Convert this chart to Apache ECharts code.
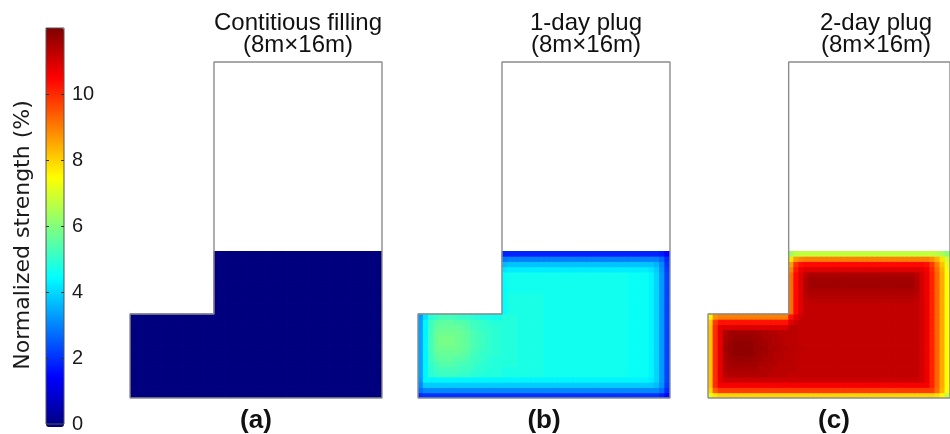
<!DOCTYPE html>
<html>
<head>
<meta charset="utf-8">
<script src="https://cdn.jsdelivr.net/npm/echarts@6/dist/echarts.min.js"></script>
<style>
  html, body { margin: 0; padding: 0; background: #fff; }
  #chart { width: 950px; height: 434px; }
</style>
</head>
<body>
<div id="chart"></div>
<script>
// Normalized backfill strength (%) in an L-shaped stope.
// Each field is a list of rows from the floor up to the fill surface (7 m);
// columns run across the stope from x = 0 to x = 12 m. null = outside the stope.

// cell centres (m): 0.5 m sampling for the uniform case, 0.25 m for the plug cases
const coarseX = [0.25, 0.75, 1.25, 1.75, 2.25, 2.75, 3.25, 3.75, 4.25, 4.75, 5.25, 5.75,
                 6.25, 6.75, 7.25, 7.75, 8.25, 8.75, 9.25, 9.75, 10.25, 10.75, 11.25, 11.75];
const coarseY = [0.25, 0.75, 1.25, 1.75, 2.25, 2.75, 3.25, 3.75, 4.25, 4.75, 5.25, 5.75, 6.25, 6.75];
const fineX = [0.125, 0.375, 0.625, 0.875, 1.125, 1.375, 1.625, 1.875, 2.125, 2.375, 2.625, 2.875,
               3.125, 3.375, 3.625, 3.875, 4.125, 4.375, 4.625, 4.875, 5.125, 5.375, 5.625, 5.875,
               6.125, 6.375, 6.625, 6.875, 7.125, 7.375, 7.625, 7.875, 8.125, 8.375, 8.625, 8.875,
               9.125, 9.375, 9.625, 9.875, 10.125, 10.375, 10.625, 10.875, 11.125, 11.375, 11.625, 11.875];
const fineY = [0.125, 0.375, 0.625, 0.875, 1.125, 1.375, 1.625, 1.875, 2.125, 2.375, 2.625, 2.875,
               3.125, 3.375, 3.625, 3.875, 4.125, 4.375, 4.625, 4.875, 5.125, 5.375, 5.625, 5.875,
               6.125, 6.375, 6.625, 6.875];

const panelTitles = ['Contitious filling', '1-day plug', '2-day plug'];
const panelSizes = ['(8m\u00d716m)', '(8m\u00d716m)', '(8m\u00d716m)'];
const panelLabels = ['(a)', '(b)', '(c)'];
const strengthName = 'Normalized strength (%)';
const strengthRange = [0, 12];
const strengthStep = 2;

// Stope walls in metres: 12 m wide floor, 4 m high side drift, 8 m x 16 m main opening
const stopeOutline = [[0, 0], [12, 0], [12, 16], [4, 16], [4, 4], [0, 4], [0, 0]];
const stopeWidth = 12, stopeHeight = 16, fillHeight = 7;

// (a) continuous filling
const fieldA = [
  [0, 0, 0, 0, 0, 0, 0, 0, 0, 0, 0, 0, 0, 0, 0, 0, 0, 0, 0, 0, 0, 0, 0, 0],
  [0, 0, 0, 0, 0, 0, 0, 0, 0, 0, 0, 0, 0, 0, 0, 0, 0, 0, 0, 0, 0, 0, 0, 0],
  [0, 0, 0, 0, 0, 0, 0, 0, 0, 0, 0, 0, 0, 0, 0, 0, 0, 0, 0, 0, 0, 0, 0, 0],
  [0, 0, 0, 0, 0, 0, 0, 0, 0, 0, 0, 0, 0, 0, 0, 0, 0, 0, 0, 0, 0, 0, 0, 0],
  [0, 0, 0, 0, 0, 0, 0, 0, 0, 0, 0, 0, 0, 0, 0, 0, 0, 0, 0, 0, 0, 0, 0, 0],
  [0, 0, 0, 0, 0, 0, 0, 0, 0, 0, 0, 0, 0, 0, 0, 0, 0, 0, 0, 0, 0, 0, 0, 0],
  [0, 0, 0, 0, 0, 0, 0, 0, 0, 0, 0, 0, 0, 0, 0, 0, 0, 0, 0, 0, 0, 0, 0, 0],
  [0, 0, 0, 0, 0, 0, 0, 0, 0, 0, 0, 0, 0, 0, 0, 0, 0, 0, 0, 0, 0, 0, 0, 0],
  [null, null, null, null, null, null, null, null, 0, 0, 0, 0, 0, 0, 0, 0, 0, 0, 0, 0, 0, 0, 0, 0],
  [null, null, null, null, null, null, null, null, 0, 0, 0, 0, 0, 0, 0, 0, 0, 0, 0, 0, 0, 0, 0, 0],
  [null, null, null, null, null, null, null, null, 0, 0, 0, 0, 0, 0, 0, 0, 0, 0, 0, 0, 0, 0, 0, 0],
  [null, null, null, null, null, null, null, null, 0, 0, 0, 0, 0, 0, 0, 0, 0, 0, 0, 0, 0, 0, 0, 0],
  [null, null, null, null, null, null, null, null, 0, 0, 0, 0, 0, 0, 0, 0, 0, 0, 0, 0, 0, 0, 0, 0],
  [null, null, null, null, null, null, null, null, 0, 0, 0, 0, 0, 0, 0, 0, 0, 0, 0, 0, 0, 0, 0, 0]
];

// (b) 1-day plug
const fieldB = [
  [2.0, 2.1, 2.1, 2.1, 2.1, 2.1, 2.1, 2.1, 2.1, 2.1, 2.1, 2.1, 2.1, 2.1, 2.1, 2.1,
   2.1, 2.1, 2.1, 2.1, 2.1, 2.1, 2.1, 2.1, 2.1, 2.1, 2.1, 2.1, 2.1, 2.1, 2.1, 2.1,
   2.1, 2.1, 2.1, 2.1, 2.1, 2.1, 2.1, 2.1, 2.1, 2.1, 2.1, 2.1, 2.1, 2.1, 1.9, 1.6],
  [2.8, 3.1, 3.1, 3.1, 3.1, 3.1, 3.1, 3.1, 3.1, 3.1, 3.1, 3.1, 3.1, 3.1, 3.1, 3.1,
   3.1, 3.1, 3.1, 3.1, 3.1, 3.1, 3.1, 3.1, 3.1, 3.1, 3.1, 3.1, 3.1, 3.1, 3.1, 3.1,
   3.1, 3.1, 3.1, 3.1, 3.1, 3.1, 3.1, 3.1, 3.1, 3.1, 3.1, 3.1, 3.1, 3.1, 2.8, 2.0],
  [3.1, 3.9, 3.9, 3.9, 3.9, 3.9, 3.9, 3.9, 3.9, 3.9, 3.9, 3.9, 3.9, 3.9, 3.9, 3.9,
   3.9, 3.9, 3.9, 3.9, 3.9, 3.9, 3.9, 3.9, 3.9, 3.9, 3.9, 3.9, 3.9, 3.9, 3.9, 3.9,
   3.9, 3.9, 3.9, 3.9, 3.9, 3.9, 3.9, 3.9, 3.9, 3.9, 3.9, 3.9, 3.9, 3.7, 3.2, 2.2],
  [3.3, 4.4, 4.4, 4.4, 4.4, 4.4, 4.4, 4.4, 4.4, 4.4, 4.4, 4.4, 4.4, 4.4, 4.4, 4.4,
   4.4, 4.4, 4.4, 4.4, 4.4, 4.4, 4.4, 4.4, 4.4, 4.4, 4.4, 4.4, 4.4, 4.4, 4.4, 4.4,
   4.4, 4.4, 4.4, 4.4, 4.4, 4.4, 4.4, 4.4, 4.4, 4.4, 4.4, 4.4, 4.3, 4.0, 3.3, 2.3],
  [3.4, 4.4, 5.0, 5.1, 5.2, 5.2, 5.2, 5.2, 5.1, 5.1, 5.0, 5.0, 4.9, 4.9, 4.9, 4.9,
   4.8, 4.8, 4.8, 4.8, 4.8, 4.8, 4.8, 4.8, 4.7, 4.7, 4.7, 4.7, 4.7, 4.7, 4.7, 4.7,
   4.7, 4.7, 4.7, 4.7, 4.7, 4.7, 4.7, 4.7, 4.6, 4.6, 4.6, 4.6, 4.4, 4.0, 3.3, 2.3],
  [3.4, 4.4, 5.0, 5.2, 5.3, 5.3, 5.3, 5.3, 5.2, 5.2, 5.1, 5.0, 5.0, 4.9, 4.9, 4.9,
   4.8, 4.8, 4.8, 4.8, 4.8, 4.8, 4.8, 4.8, 4.7, 4.7, 4.7, 4.7, 4.7, 4.7, 4.7, 4.7,
   4.7, 4.7, 4.7, 4.7, 4.7, 4.7, 4.7, 4.7, 4.6, 4.6, 4.6, 4.6, 4.4, 4.0, 3.3, 2.3],
  [3.4, 4.4, 5.1, 5.3, 5.5, 5.5, 5.5, 5.4, 5.3, 5.3, 5.2, 5.1, 5.0, 5.0, 4.9, 4.9,
   4.9, 4.9, 4.9, 4.8, 4.8, 4.8, 4.8, 4.8, 4.7, 4.7, 4.7, 4.7, 4.7, 4.7, 4.7, 4.7,
   4.7, 4.7, 4.7, 4.7, 4.7, 4.7, 4.7, 4.7, 4.6, 4.6, 4.6, 4.6, 4.4, 4.0, 3.3, 2.3],
  [3.4, 4.4, 5.2, 5.5, 5.6, 5.6, 5.6, 5.5, 5.5, 5.4, 5.2, 5.2, 5.1, 5.0, 4.9, 4.9,
   4.9, 4.9, 4.9, 4.8, 4.8, 4.8, 4.8, 4.8, 4.7, 4.7, 4.7, 4.7, 4.7, 4.7, 4.7, 4.7,
   4.7, 4.7, 4.7, 4.7, 4.7, 4.7, 4.7, 4.7, 4.6, 4.6, 4.6, 4.6, 4.4, 4.0, 3.3, 2.3],
  [3.4, 4.4, 5.2, 5.6, 5.7, 5.7, 5.7, 5.7, 5.6, 5.5, 5.3, 5.2, 5.1, 5.1, 5.0, 5.0,
   4.9, 4.9, 4.9, 4.8, 4.8, 4.8, 4.8, 4.8, 4.7, 4.7, 4.7, 4.7, 4.7, 4.7, 4.7, 4.7,
   4.7, 4.7, 4.7, 4.7, 4.7, 4.7, 4.7, 4.7, 4.6, 4.6, 4.6, 4.6, 4.4, 4.0, 3.3, 2.3],
  [3.4, 4.4, 5.3, 5.7, 5.8, 5.8, 5.8, 5.8, 5.7, 5.6, 5.4, 5.3, 5.2, 5.1, 5.0, 5.0,
   4.9, 4.9, 4.9, 4.8, 4.8, 4.8, 4.8, 4.8, 4.7, 4.7, 4.7, 4.7, 4.7, 4.7, 4.7, 4.7,
   4.7, 4.7, 4.7, 4.7, 4.7, 4.7, 4.7, 4.7, 4.6, 4.6, 4.6, 4.6, 4.4, 4.0, 3.3, 2.3],
  [3.4, 4.4, 5.3, 5.7, 5.9, 5.9, 5.9, 5.8, 5.7, 5.6, 5.4, 5.3, 5.2, 5.1, 5.0, 5.0,
   4.9, 4.9, 4.9, 4.8, 4.8, 4.8, 4.8, 4.8, 4.7, 4.7, 4.7, 4.7, 4.7, 4.7, 4.7, 4.7,
   4.7, 4.7, 4.7, 4.7, 4.7, 4.7, 4.7, 4.7, 4.6, 4.6, 4.6, 4.6, 4.4, 4.0, 3.3, 2.3],
  [3.4, 4.4, 5.3, 5.7, 5.9, 5.9, 5.9, 5.8, 5.7, 5.6, 5.4, 5.3, 5.2, 5.1, 5.0, 5.0,
   4.9, 4.9, 4.9, 4.8, 4.8, 4.8, 4.8, 4.8, 4.7, 4.7, 4.7, 4.7, 4.7, 4.7, 4.7, 4.7,
   4.7, 4.7, 4.7, 4.7, 4.7, 4.7, 4.7, 4.7, 4.6, 4.6, 4.6, 4.6, 4.4, 4.0, 3.3, 2.3],
  [3.4, 4.4, 5.3, 5.7, 5.8, 5.8, 5.8, 5.8, 5.7, 5.6, 5.4, 5.3, 5.2, 5.1, 5.0, 5.0,
   4.9, 4.9, 4.9, 4.8, 4.8, 4.8, 4.8, 4.8, 4.7, 4.7, 4.7, 4.7, 4.7, 4.7, 4.7, 4.7,
   4.7, 4.7, 4.7, 4.7, 4.7, 4.7, 4.7, 4.7, 4.6, 4.6, 4.6, 4.6, 4.4, 4.0, 3.3, 2.3],
  [3.4, 4.4, 5.2, 5.6, 5.7, 5.7, 5.7, 5.7, 5.6, 5.5, 5.3, 5.2, 5.1, 5.1, 5.0, 5.0,
   4.9, 4.9, 4.9, 4.8, 4.8, 4.8, 4.8, 4.8, 4.7, 4.7, 4.7, 4.7, 4.7, 4.7, 4.7, 4.7,
   4.7, 4.7, 4.7, 4.7, 4.7, 4.7, 4.7, 4.7, 4.6, 4.6, 4.6, 4.6, 4.4, 4.0, 3.3, 2.3],
  [3.4, 4.4, 5.2, 5.5, 5.6, 5.6, 5.6, 5.5, 5.5, 5.4, 5.2, 5.2, 5.1, 5.0, 4.9, 4.9,
   4.9, 4.9, 4.9, 4.8, 4.8, 4.8, 4.8, 4.8, 4.7, 4.7, 4.7, 4.7, 4.7, 4.7, 4.7, 4.7,
   4.7, 4.7, 4.7, 4.7, 4.7, 4.7, 4.7, 4.7, 4.6, 4.6, 4.6, 4.6, 4.4, 4.0, 3.3, 2.3],
  [3.3, 4.2, 4.9, 5.1, 5.3, 5.3, 5.3, 5.2, 5.1, 5.1, 5.0, 4.9, 4.8, 4.8, 4.7, 4.7,
   4.9, 4.9, 4.9, 4.8, 4.8, 4.8, 4.8, 4.8, 4.7, 4.7, 4.7, 4.7, 4.7, 4.7, 4.7, 4.7,
   4.7, 4.7, 4.7, 4.7, 4.7, 4.7, 4.7, 4.7, 4.6, 4.6, 4.6, 4.6, 4.4, 4.0, 3.3, 2.3],
  [null, null, null, null, null, null, null, null, null, null, null, null, null, null, null, null,
   4.5, 4.8, 4.8, 4.8, 4.8, 4.8, 4.8, 4.8, 4.7, 4.7, 4.7, 4.7, 4.7, 4.7, 4.7, 4.7,
   4.7, 4.7, 4.7, 4.7, 4.7, 4.7, 4.7, 4.7, 4.6, 4.6, 4.6, 4.6, 4.4, 4.0, 3.3, 2.3],
  [null, null, null, null, null, null, null, null, null, null, null, null, null, null, null, null,
   4.5, 4.8, 4.8, 4.8, 4.8, 4.8, 4.8, 4.8, 4.7, 4.7, 4.7, 4.7, 4.7, 4.7, 4.7, 4.7,
   4.7, 4.7, 4.7, 4.7, 4.7, 4.7, 4.7, 4.7, 4.6, 4.6, 4.6, 4.6, 4.4, 4.0, 3.3, 2.3],
  [null, null, null, null, null, null, null, null, null, null, null, null, null, null, null, null,
   4.5, 4.8, 4.8, 4.8, 4.8, 4.8, 4.8, 4.8, 4.7, 4.7, 4.7, 4.7, 4.7, 4.7, 4.7, 4.7,
   4.7, 4.7, 4.7, 4.7, 4.7, 4.7, 4.7, 4.7, 4.6, 4.6, 4.6, 4.6, 4.4, 4.0, 3.3, 2.3],
  [null, null, null, null, null, null, null, null, null, null, null, null, null, null, null, null,
   4.5, 4.8, 4.8, 4.8, 4.8, 4.8, 4.8, 4.8, 4.7, 4.7, 4.7, 4.7, 4.7, 4.7, 4.7, 4.7,
   4.7, 4.7, 4.7, 4.7, 4.7, 4.7, 4.7, 4.7, 4.6, 4.6, 4.6, 4.6, 4.4, 4.0, 3.3, 2.3],
  [null, null, null, null, null, null, null, null, null, null, null, null, null, null, null, null,
   4.5, 4.7, 4.7, 4.7, 4.7, 4.7, 4.7, 4.7, 4.7, 4.7, 4.7, 4.7, 4.7, 4.7, 4.7, 4.7,
   4.7, 4.7, 4.7, 4.7, 4.7, 4.7, 4.7, 4.7, 4.6, 4.6, 4.6, 4.6, 4.4, 4.0, 3.3, 2.3],
  [null, null, null, null, null, null, null, null, null, null, null, null, null, null, null, null,
   4.5, 4.7, 4.7, 4.7, 4.7, 4.7, 4.7, 4.7, 4.7, 4.7, 4.7, 4.7, 4.7, 4.7, 4.7, 4.7,
   4.7, 4.7, 4.7, 4.7, 4.7, 4.7, 4.7, 4.7, 4.6, 4.6, 4.6, 4.6, 4.4, 4.0, 3.3, 2.3],
  [null, null, null, null, null, null, null, null, null, null, null, null, null, null, null, null,
   4.5, 4.7, 4.7, 4.7, 4.7, 4.7, 4.7, 4.7, 4.7, 4.7, 4.7, 4.7, 4.7, 4.7, 4.7, 4.7,
   4.7, 4.7, 4.7, 4.7, 4.7, 4.7, 4.7, 4.7, 4.6, 4.6, 4.6, 4.6, 4.4, 4.0, 3.3, 2.3],
  [null, null, null, null, null, null, null, null, null, null, null, null, null, null, null, null,
   4.5, 4.7, 4.7, 4.7, 4.7, 4.7, 4.7, 4.7, 4.7, 4.7, 4.7, 4.7, 4.7, 4.7, 4.7, 4.7,
   4.7, 4.7, 4.7, 4.7, 4.7, 4.7, 4.7, 4.7, 4.6, 4.6, 4.6, 4.6, 4.4, 4.0, 3.3, 2.3],
  [null, null, null, null, null, null, null, null, null, null, null, null, null, null, null, null,
   4.2, 4.3, 4.3, 4.3, 4.3, 4.3, 4.3, 4.3, 4.3, 4.3, 4.3, 4.3, 4.3, 4.3, 4.3, 4.3,
   4.3, 4.3, 4.3, 4.3, 4.3, 4.3, 4.3, 4.3, 4.3, 4.3, 4.3, 4.3, 4.2, 3.9, 3.2, 2.2],
  [null, null, null, null, null, null, null, null, null, null, null, null, null, null, null, null,
   3.7, 3.8, 3.8, 3.8, 3.8, 3.8, 3.8, 3.8, 3.8, 3.8, 3.8, 3.8, 3.8, 3.8, 3.8, 3.8,
   3.8, 3.8, 3.8, 3.8, 3.8, 3.8, 3.8, 3.8, 3.8, 3.8, 3.8, 3.8, 3.8, 3.6, 3.1, 2.1],
  [null, null, null, null, null, null, null, null, null, null, null, null, null, null, null, null,
   2.9, 3.0, 3.0, 3.0, 3.0, 3.0, 3.0, 3.0, 3.0, 3.0, 3.0, 3.0, 3.0, 3.0, 3.0, 3.0,
   3.0, 3.0, 3.0, 3.0, 3.0, 3.0, 3.0, 3.0, 3.0, 3.0, 3.0, 3.0, 3.0, 3.0, 2.7, 2.0],
  [null, null, null, null, null, null, null, null, null, null, null, null, null, null, null, null,
   1.9, 1.9, 1.9, 1.9, 1.9, 1.9, 1.9, 1.9, 1.9, 1.9, 1.9, 1.9, 1.9, 1.9, 1.9, 1.9,
   1.9, 1.9, 1.9, 1.9, 1.9, 1.9, 1.9, 1.9, 1.9, 1.9, 1.9, 1.9, 1.9, 1.9, 1.8, 1.5]
];

// (c) 2-day plug
const fieldC = [
  [7.2, 7.8, 8.0, 8.0, 8.0, 8.0, 8.0, 8.0, 8.0, 8.0, 8.0, 8.0, 8.0, 8.0, 8.0, 8.0,
   8.0, 8.0, 8.0, 8.0, 8.0, 8.0, 8.0, 8.0, 8.0, 8.0, 8.0, 8.0, 8.0, 8.0, 8.0, 8.0,
   8.0, 8.0, 8.0, 8.0, 8.0, 8.0, 8.0, 8.0, 8.0, 8.0, 8.0, 8.0, 8.0, 7.9, 7.6, 6.8],
  [8.0, 9.4, 9.8, 9.8, 9.8, 9.8, 9.8, 9.8, 9.8, 9.8, 9.8, 9.8, 9.8, 9.8, 9.8, 9.8,
   9.8, 9.8, 9.8, 9.8, 9.8, 9.8, 9.8, 9.8, 9.8, 9.8, 9.8, 9.8, 9.8, 9.8, 9.8, 9.8,
   9.8, 9.8, 9.8, 9.8, 9.8, 9.8, 9.8, 9.8, 9.8, 9.8, 9.8, 9.8, 9.8, 9.2, 8.4, 7.4],
  [8.2, 10.0, 10.6, 10.6, 10.6, 10.6, 10.6, 10.6, 10.6, 10.6, 10.6, 10.6, 10.6, 10.6, 10.6, 10.6,
   10.6, 10.6, 10.6, 10.6, 10.6, 10.6, 10.6, 10.6, 10.6, 10.6, 10.6, 10.6, 10.6, 10.6, 10.6, 10.6,
   10.6, 10.6, 10.6, 10.6, 10.6, 10.6, 10.6, 10.6, 10.6, 10.6, 10.6, 10.6, 10.1, 9.3, 8.5, 7.5],
  [8.2, 10.0, 10.8, 11.1, 11.1, 11.1, 11.1, 11.1, 11.1, 11.1, 11.1, 11.1, 11.1, 11.1, 11.1, 11.1,
   11.1, 11.1, 11.1, 11.1, 11.1, 11.1, 11.1, 11.1, 11.1, 11.1, 11.1, 11.1, 11.1, 11.1, 11.1, 11.1,
   11.1, 11.1, 11.1, 11.1, 11.1, 11.1, 11.1, 11.1, 11.1, 11.1, 11.0, 10.7, 10.1, 9.3, 8.5, 7.5],
  [8.2, 10.0, 10.8, 11.3, 11.4, 11.4, 11.4, 11.4, 11.4, 11.4, 11.4, 11.4, 11.3, 11.3, 11.3, 11.3,
   11.2, 11.2, 11.2, 11.2, 11.2, 11.2, 11.2, 11.2, 11.2, 11.2, 11.2, 11.2, 11.2, 11.2, 11.2, 11.2,
   11.2, 11.2, 11.2, 11.2, 11.2, 11.2, 11.2, 11.2, 11.2, 11.2, 11.0, 10.7, 10.1, 9.3, 8.5, 7.5],
  [8.2, 10.0, 10.8, 11.4, 11.5, 11.5, 11.5, 11.5, 11.5, 11.5, 11.4, 11.4, 11.4, 11.3, 11.3, 11.3,
   11.3, 11.3, 11.2, 11.2, 11.2, 11.2, 11.2, 11.2, 11.2, 11.2, 11.2, 11.2, 11.2, 11.2, 11.2, 11.2,
   11.2, 11.2, 11.2, 11.2, 11.2, 11.2, 11.2, 11.2, 11.2, 11.2, 11.0, 10.7, 10.1, 9.3, 8.5, 7.5],
  [8.2, 10.0, 10.8, 11.4, 11.6, 11.6, 11.6, 11.6, 11.6, 11.6, 11.5, 11.5, 11.4, 11.4, 11.3, 11.3,
   11.3, 11.3, 11.2, 11.2, 11.2, 11.2, 11.2, 11.2, 11.2, 11.2, 11.2, 11.2, 11.2, 11.2, 11.2, 11.2,
   11.2, 11.2, 11.2, 11.2, 11.2, 11.2, 11.2, 11.2, 11.2, 11.2, 11.0, 10.7, 10.1, 9.3, 8.5, 7.5],
  [8.2, 10.0, 10.8, 11.5, 11.6, 11.7, 11.7, 11.7, 11.7, 11.6, 11.6, 11.5, 11.5, 11.4, 11.4, 11.3,
   11.3, 11.3, 11.2, 11.2, 11.2, 11.2, 11.2, 11.2, 11.2, 11.2, 11.2, 11.2, 11.2, 11.2, 11.2, 11.2,
   11.2, 11.2, 11.2, 11.2, 11.2, 11.2, 11.2, 11.2, 11.2, 11.2, 11.0, 10.7, 10.1, 9.3, 8.5, 7.5],
  [8.2, 10.0, 10.8, 11.5, 11.7, 11.8, 11.8, 11.8, 11.8, 11.7, 11.6, 11.6, 11.5, 11.4, 11.4, 11.3,
   11.3, 11.3, 11.2, 11.2, 11.2, 11.2, 11.2, 11.2, 11.2, 11.2, 11.2, 11.2, 11.2, 11.2, 11.2, 11.2,
   11.2, 11.2, 11.2, 11.2, 11.2, 11.2, 11.2, 11.2, 11.2, 11.2, 11.0, 10.7, 10.1, 9.3, 8.5, 7.5],
  [8.2, 10.0, 10.8, 11.6, 11.7, 11.8, 11.8, 11.8, 11.8, 11.7, 11.7, 11.6, 11.5, 11.5, 11.4, 11.4,
   11.3, 11.3, 11.3, 11.2, 11.2, 11.2, 11.2, 11.2, 11.2, 11.2, 11.2, 11.2, 11.2, 11.2, 11.2, 11.2,
   11.2, 11.2, 11.2, 11.2, 11.2, 11.2, 11.2, 11.2, 11.2, 11.2, 11.0, 10.7, 10.1, 9.3, 8.5, 7.5],
  [8.2, 10.0, 10.8, 11.5, 11.7, 11.8, 11.8, 11.8, 11.8, 11.7, 11.6, 11.6, 11.5, 11.4, 11.4, 11.3,
   11.3, 11.3, 11.2, 11.2, 11.2, 11.2, 11.2, 11.2, 11.2, 11.2, 11.2, 11.2, 11.2, 11.2, 11.2, 11.2,
   11.2, 11.2, 11.2, 11.2, 11.2, 11.2, 11.2, 11.2, 11.2, 11.2, 11.0, 10.7, 10.1, 9.3, 8.5, 7.5],
  [8.2, 10.0, 10.8, 11.5, 11.6, 11.7, 11.7, 11.7, 11.7, 11.6, 11.6, 11.5, 11.5, 11.4, 11.4, 11.3,
   11.3, 11.3, 11.2, 11.2, 11.2, 11.2, 11.2, 11.2, 11.2, 11.2, 11.2, 11.2, 11.2, 11.2, 11.2, 11.2,
   11.2, 11.2, 11.2, 11.2, 11.2, 11.2, 11.2, 11.2, 11.2, 11.2, 11.0, 10.7, 10.1, 9.3, 8.5, 7.5],
  [8.2, 10.0, 10.8, 11.4, 11.6, 11.6, 11.6, 11.6, 11.6, 11.6, 11.5, 11.5, 11.4, 11.4, 11.3, 11.3,
   11.3, 11.3, 11.2, 11.2, 11.2, 11.2, 11.2, 11.2, 11.2, 11.2, 11.2, 11.2, 11.2, 11.2, 11.2, 11.2,
   11.2, 11.2, 11.2, 11.2, 11.2, 11.2, 11.2, 11.2, 11.2, 11.2, 11.0, 10.7, 10.1, 9.3, 8.5, 7.5],
  [8.2, 10.0, 10.8, 10.9, 10.9, 10.9, 10.9, 10.9, 10.9, 10.9, 10.9, 10.9, 10.9, 10.9, 10.9, 10.9,
   11.3, 11.3, 11.2, 11.2, 11.2, 11.2, 11.2, 11.2, 11.2, 11.2, 11.2, 11.2, 11.2, 11.2, 11.2, 11.2,
   11.2, 11.2, 11.2, 11.2, 11.2, 11.2, 11.2, 11.2, 11.2, 11.2, 11.0, 10.7, 10.1, 9.3, 8.5, 7.5],
  [8.1, 9.8, 10.3, 10.3, 10.3, 10.3, 10.3, 10.3, 10.3, 10.3, 10.3, 10.3, 10.3, 10.3, 10.3, 10.3,
   10.8, 11.1, 11.2, 11.2, 11.2, 11.2, 11.2, 11.2, 11.2, 11.2, 11.2, 11.2, 11.2, 11.2, 11.2, 11.2,
   11.2, 11.2, 11.2, 11.2, 11.2, 11.2, 11.2, 11.2, 11.2, 11.2, 11.0, 10.7, 10.1, 9.3, 8.5, 7.5],
  [7.6, 8.8, 9.0, 9.0, 9.0, 9.0, 9.0, 9.0, 9.0, 9.0, 9.0, 9.0, 9.0, 9.0, 9.0, 9.0,
   10.3, 10.8, 11.1, 11.2, 11.2, 11.2, 11.2, 11.2, 11.2, 11.2, 11.2, 11.2, 11.2, 11.2, 11.2, 11.2,
   11.2, 11.2, 11.2, 11.2, 11.2, 11.2, 11.2, 11.2, 11.2, 11.2, 11.0, 10.7, 10.1, 9.3, 8.5, 7.5],
  [null, null, null, null, null, null, null, null, null, null, null, null, null, null, null, null,
   9.2, 10.4, 10.9, 11.2, 11.2, 11.2, 11.2, 11.2, 11.2, 11.2, 11.2, 11.2, 11.2, 11.2, 11.2, 11.2,
   11.2, 11.2, 11.2, 11.2, 11.2, 11.2, 11.2, 11.2, 11.2, 11.2, 11.0, 10.7, 10.1, 9.3, 8.5, 7.5],
  [null, null, null, null, null, null, null, null, null, null, null, null, null, null, null, null,
   9.2, 10.4, 10.9, 11.2, 11.2, 11.2, 11.2, 11.2, 11.2, 11.2, 11.2, 11.2, 11.2, 11.2, 11.2, 11.2,
   11.2, 11.2, 11.2, 11.2, 11.2, 11.2, 11.2, 11.2, 11.2, 11.2, 11.0, 10.7, 10.1, 9.3, 8.5, 7.5],
  [null, null, null, null, null, null, null, null, null, null, null, null, null, null, null, null,
   9.2, 10.4, 10.9, 11.2, 11.3, 11.3, 11.3, 11.3, 11.3, 11.3, 11.3, 11.3, 11.3, 11.3, 11.3, 11.3,
   11.3, 11.3, 11.3, 11.3, 11.3, 11.3, 11.3, 11.3, 11.3, 11.2, 11.0, 10.7, 10.1, 9.3, 8.5, 7.5],
  [null, null, null, null, null, null, null, null, null, null, null, null, null, null, null, null,
   9.2, 10.4, 10.9, 11.3, 11.4, 11.4, 11.4, 11.4, 11.4, 11.4, 11.4, 11.4, 11.4, 11.4, 11.4, 11.4,
   11.4, 11.4, 11.4, 11.4, 11.4, 11.4, 11.4, 11.4, 11.4, 11.3, 11.0, 10.7, 10.1, 9.3, 8.5, 7.5],
  [null, null, null, null, null, null, null, null, null, null, null, null, null, null, null, null,
   9.2, 10.4, 10.9, 11.4, 11.5, 11.5, 11.5, 11.5, 11.5, 11.5, 11.5, 11.5, 11.5, 11.5, 11.5, 11.5,
   11.5, 11.5, 11.5, 11.5, 11.5, 11.5, 11.5, 11.5, 11.5, 11.4, 11.0, 10.7, 10.1, 9.3, 8.5, 7.5],
  [null, null, null, null, null, null, null, null, null, null, null, null, null, null, null, null,
   9.2, 10.4, 10.9, 11.4, 11.6, 11.6, 11.6, 11.6, 11.6, 11.6, 11.6, 11.6, 11.6, 11.6, 11.6, 11.6,
   11.6, 11.6, 11.6, 11.6, 11.6, 11.6, 11.6, 11.6, 11.6, 11.4, 11.0, 10.7, 10.1, 9.3, 8.5, 7.5],
  [null, null, null, null, null, null, null, null, null, null, null, null, null, null, null, null,
   9.2, 10.4, 10.9, 11.4, 11.6, 11.6, 11.6, 11.6, 11.6, 11.6, 11.6, 11.6, 11.6, 11.6, 11.6, 11.6,
   11.6, 11.6, 11.6, 11.6, 11.6, 11.6, 11.6, 11.6, 11.6, 11.4, 11.0, 10.7, 10.1, 9.3, 8.5, 7.5],
  [null, null, null, null, null, null, null, null, null, null, null, null, null, null, null, null,
   9.2, 10.4, 10.9, 11.3, 11.5, 11.5, 11.5, 11.5, 11.5, 11.5, 11.5, 11.5, 11.5, 11.5, 11.5, 11.5,
   11.5, 11.5, 11.5, 11.5, 11.5, 11.5, 11.5, 11.5, 11.5, 11.3, 11.0, 10.7, 10.1, 9.3, 8.5, 7.5],
  [null, null, null, null, null, null, null, null, null, null, null, null, null, null, null, null,
   8.9, 10.2, 10.7, 10.9, 10.9, 10.9, 10.9, 10.9, 10.9, 10.9, 10.9, 10.9, 10.9, 10.9, 10.9, 10.9,
   10.9, 10.9, 10.9, 10.9, 10.9, 10.9, 10.9, 10.9, 10.9, 10.9, 10.8, 10.6, 10.0, 9.2, 8.4, 7.4],
  [null, null, null, null, null, null, null, null, null, null, null, null, null, null, null, null,
   8.6, 9.9, 10.3, 10.4, 10.4, 10.4, 10.4, 10.4, 10.4, 10.4, 10.4, 10.4, 10.4, 10.4, 10.4, 10.4,
   10.4, 10.4, 10.4, 10.4, 10.4, 10.4, 10.4, 10.4, 10.4, 10.4, 10.4, 10.3, 9.8, 9.0, 8.2, 7.2],
  [null, null, null, null, null, null, null, null, null, null, null, null, null, null, null, null,
   7.8, 8.7, 8.9, 9.0, 9.0, 9.0, 9.0, 9.0, 9.0, 9.0, 9.0, 9.0, 9.0, 9.0, 9.0, 9.0,
   9.0, 9.0, 9.0, 9.0, 9.0, 9.0, 9.0, 9.0, 9.0, 9.0, 9.0, 9.0, 8.8, 8.4, 7.8, 7.0],
  [null, null, null, null, null, null, null, null, null, null, null, null, null, null, null, null,
   6.4, 6.7, 6.8, 6.8, 6.8, 6.8, 6.8, 6.8, 6.8, 6.8, 6.8, 6.8, 6.8, 6.8, 6.8, 6.8,
   6.8, 6.8, 6.8, 6.8, 6.8, 6.8, 6.8, 6.8, 6.8, 6.8, 6.8, 6.8, 6.8, 6.7, 6.5, 6.2]
];

const panels = [
  { field: fieldA, cellsX: coarseX, cellsY: coarseY },
  { field: fieldB, cellsX: fineX, cellsY: fineY },
  { field: fieldC, cellsX: fineX, cellsY: fineY }
];

// every row must cover the full stope width
panels.forEach((pn, p) => pn.field.forEach((row, j) => {
  if (row.length !== pn.cellsX.length) throw new Error('panel ' + p + ' row ' + j + ' has ' + row.length + ' cells');
}));

// Jet colour scale
const jet = ['#00007f', '#0000ff', '#007fff', '#00ffff', '#7fff7f', '#ffff00', '#ff7f00', '#ff0000', '#7f0000'];

// ---- layout (pixels) ----
const pxPerMetre = 21;
const panelLeft = [130, 418, 708];
const panelBottom = 398;
const barBox = { left: 46, top: 28, width: 18, height: 399 };
const textFont = '"Liberation Sans", Arial, sans-serif';

const grids = [];
const xAxes = [];
const yAxes = [];
const series = [];
const graphics = [];

// colour bar frame, ticks and labels
grids.push({ left: barBox.left, top: barBox.top, width: barBox.width, height: barBox.height,
             show: true, backgroundColor: 'transparent', borderColor: '#555', borderWidth: 1, z: 10 });
xAxes.push({ type: 'value', gridIndex: 0, show: false, min: 0, max: 1 });
const barAxisBase = {
  type: 'value', gridIndex: 0, min: strengthRange[0], max: strengthRange[1], interval: strengthStep,
  z: 10, splitLine: { show: false }, axisLine: { show: false },
  axisTick: { show: true, inside: true, length: 3, lineStyle: { color: '#333', width: 1 } }
};
yAxes.push(Object.assign({}, barAxisBase, { position: 'left', axisLabel: { show: false } }));
yAxes.push(Object.assign({}, barAxisBase, {
  position: 'right',
  axisLabel: { show: true, margin: 8, color: '#1a1a1a', fontSize: 20, fontFamily: textFont, showMaxLabel: false }
}));

// one filled rectangle per cell, slightly overlapped so neighbouring cells leave no seams
function renderCell(params, api) {
  const c = api.coord([api.value(0), api.value(1)]);
  const s = api.size([1, 1]);
  return {
    type: 'rect',
    shape: { x: c[0] - s[0] / 2 - 0.4, y: c[1] - s[1] / 2 - 0.4, width: s[0] + 0.8, height: s[1] + 0.8 },
    style: { fill: api.visual('color') }
  };
}

const fieldSeriesIdx = [];
panels.forEach((pn, p) => {
  const left = panelLeft[p];
  const width = stopeWidth * pxPerMetre;

  // grid for the filled part
  const heatGrid = grids.length;
  grids.push({ left: left, top: panelBottom - fillHeight * pxPerMetre, width: width, height: fillHeight * pxPerMetre });
  const hx = xAxes.length;
  xAxes.push({ type: 'category', gridIndex: heatGrid, data: pn.cellsX, show: false });
  const hy = yAxes.length;
  yAxes.push({ type: 'category', gridIndex: heatGrid, data: pn.cellsY, show: false });

  const data = [];
  pn.field.forEach((row, j) => row.forEach((v, i) => { if (v !== null) data.push([i, j, v]); }));
  fieldSeriesIdx.push(series.length);
  series.push({
    type: 'custom', xAxisIndex: hx, yAxisIndex: hy, data: data,
    dimensions: ['x', 'y', 'strength'], encode: { x: 0, y: 1 },
    renderItem: renderCell, silent: true, clip: true
  });

  // grid for the stope walls (metres)
  const outGrid = grids.length;
  grids.push({ left: left, top: panelBottom - stopeHeight * pxPerMetre, width: width, height: stopeHeight * pxPerMetre });
  const ox = xAxes.length;
  xAxes.push({ type: 'value', gridIndex: outGrid, min: 0, max: stopeWidth, show: false });
  const oy = yAxes.length;
  yAxes.push({ type: 'value', gridIndex: outGrid, min: 0, max: stopeHeight, show: false });
  series.push({
    type: 'line', xAxisIndex: ox, yAxisIndex: oy, data: stopeOutline, symbol: 'none',
    clip: false, silent: true, z: 5,
    lineStyle: { color: '#8c8c8c', width: 1.4 }
  });

  // titles and panel label
  const cx = left + (4 + 4) * pxPerMetre;
  graphics.push({ type: 'text', x: cx, y: 23, style: { text: panelTitles[p], fill: '#111',
    font: '24px ' + textFont, align: 'center', verticalAlign: 'middle' } });
  graphics.push({ type: 'text', x: cx, y: 45, style: { text: panelSizes[p], fill: '#111',
    font: '24px ' + textFont, align: 'center', verticalAlign: 'middle' } });
  graphics.push({ type: 'text', x: left + width / 2, y: 421, style: { text: panelLabels[p], fill: '#111',
    font: 'bold 26px ' + textFont, align: 'center', verticalAlign: 'middle' } });
});

graphics.push({ type: 'text', x: 23, y: 235, rotation: Math.PI / 2,
  style: { text: strengthName, fill: '#1a1a1a', font: '22px "DejaVu Sans", sans-serif',
           align: 'center', verticalAlign: 'middle' } });

const chart = echarts.init(document.getElementById('chart'), null, { renderer: 'canvas' });
chart.setOption({
  animation: false,
  backgroundColor: '#fff',
  grid: grids,
  xAxis: xAxes,
  yAxis: yAxes,
  visualMap: {
    type: 'continuous', min: strengthRange[0], max: strengthRange[1], dimension: 2,
    seriesIndex: fieldSeriesIdx, calculable: false, text: null, padding: 0,
    left: barBox.left, top: barBox.top, itemWidth: barBox.width, itemHeight: barBox.height,
    inRange: { color: jet }, hoverLink: false
  },
  series: series,
  graphic: graphics
});
</script>
</body>
</html>
